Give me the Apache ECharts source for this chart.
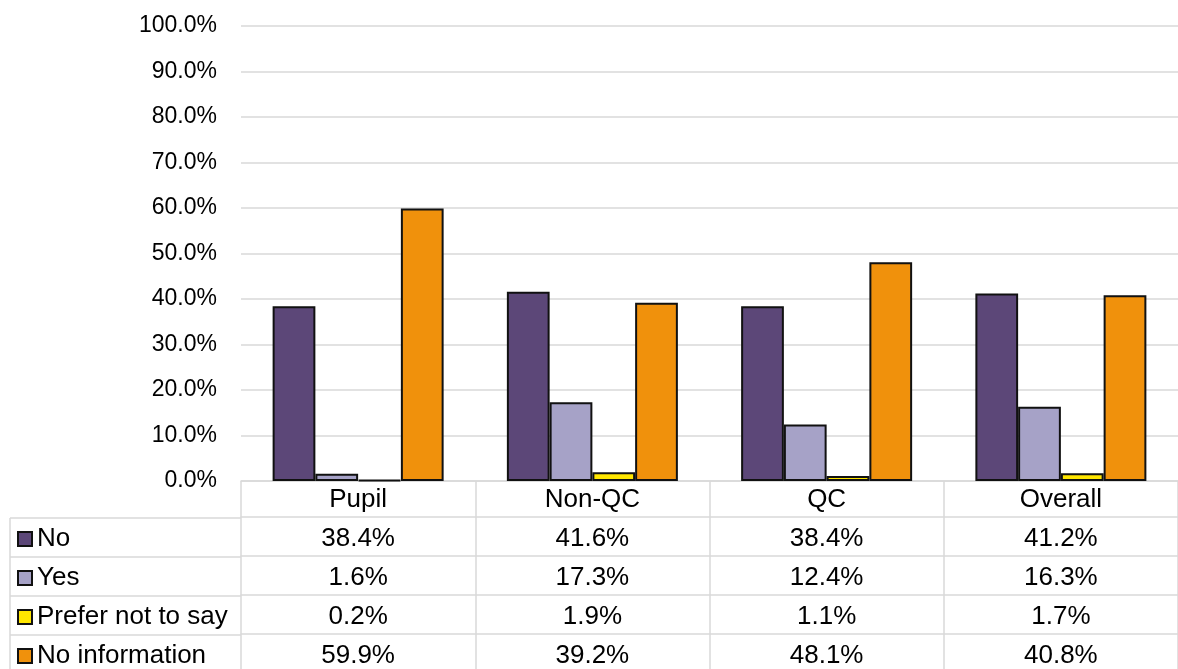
<!DOCTYPE html>
<html>
<head>
<meta charset="utf-8">
<script src="https://cdn.jsdelivr.net/npm/echarts@6/dist/echarts.min.js"></script>
<style>
html,body{margin:0;padding:0;background:#fff;}
#main{width:1178px;height:669px;}
</style>
</head>
<body>
<div id="main"></div>
<script>
// data
var categories = ['Pupil', 'Non-QC', 'QC', 'Overall'];
var seriesNames = ['No', 'Yes', 'Prefer not to say', 'No information'];
var noData = [38.4, 41.6, 38.4, 41.2];
var yesData = [1.6, 17.3, 12.4, 16.3];
var preferData = [0.2, 1.9, 1.1, 1.7];
var noInfoData = [59.9, 39.2, 48.1, 40.8];
var yTicks = [0, 10, 20, 30, 40, 50, 60, 70, 80, 90, 100];

var allData = [noData, yesData, preferData, noInfoData];
var colors = ['#5c4778', '#a6a2c7', '#ffe600', '#f0910c'];
var lineColor = '#d9d9d9';
var font = 'Liberation Sans, Arial, sans-serif';

var gridLeft = 241, gridTop = 26, gridBottom = 187;
var headerH = 36, rowH = 39;
var tableFont = 26;

var myChart = echarts.init(document.getElementById('main'));

function pct(v) { return v.toFixed(1) + '%'; }

// header axis + one axis per table row
var xAxes = [{
    type: 'category',
    data: categories,
    position: 'bottom',
    axisLine: {lineStyle: {color: lineColor, width: 1.5}},
    axisTick: {show: true, length: headerH, lineStyle: {color: lineColor, width: 1.5}},
    axisLabel: {margin: 6, fontSize: tableFont, color: '#000', fontFamily: font, interval: 0},
    splitLine: {show: false}
}];
allData.forEach(function (d, i) {
    xAxes.push({
        type: 'category',
        data: d.map(pct),
        position: 'bottom',
        offset: headerH + i * rowH,
        axisLine: {lineStyle: {color: lineColor, width: 1.5}},
        axisTick: {show: true, length: rowH, lineStyle: {color: lineColor, width: 1.5}},
        axisLabel: {margin: 9, fontSize: tableFont, color: '#000', fontFamily: font, interval: 0},
        splitLine: {show: false}
    });
});

var series = allData.map(function (d, i) {
    return {
        name: seriesNames[i],
        type: 'bar',
        xAxisIndex: 0,
        data: d,
        barGap: '0%',
        barCategoryGap: '27%',
        itemStyle: {color: colors[i], borderColor: '#111', borderWidth: 2}
    };
});

// left part of the data table
var chartH = 669;
var tableTop = chartH - gridBottom + headerH;
var graphics = [];
for (var r = 0; r < allData.length; r++) {
    graphics.push({
        type: 'line', shape: {x1: 10, y1: tableTop + r * rowH, x2: gridLeft, y2: tableTop + r * rowH},
        style: {stroke: lineColor, lineWidth: 1.5}
    });
}
graphics.push({
    type: 'line', shape: {x1: 10, y1: tableTop, x2: 10, y2: chartH},
    style: {stroke: lineColor, lineWidth: 1.5}
});

option = {
    animation: false,
    backgroundColor: '#fff',
    textStyle: {fontFamily: font},
    grid: {left: gridLeft, right: 0, top: gridTop, bottom: gridBottom},
    legend: {
        data: seriesNames,
        orient: 'vertical',
        icon: 'rect',
        left: 17,
        top: tableTop + 8,
        padding: 0,
        itemWidth: 14,
        itemHeight: 14,
        itemGap: rowH - tableFont,
        textStyle: {fontSize: tableFont, color: '#000', fontFamily: font, lineHeight: tableFont},
        selectedMode: false
    },
    xAxis: xAxes,
    yAxis: {
        type: 'value',
        min: yTicks[0],
        max: yTicks[yTicks.length - 1],
        interval: yTicks[1] - yTicks[0],
        axisLine: {show: false},
        axisTick: {show: false},
        axisLabel: {margin: 24, fontSize: 23, color: '#000', fontFamily: font, formatter: function (v) { return pct(v); }},
        splitLine: {lineStyle: {color: lineColor, width: 1.5}}
    },
    graphic: graphics,
    series: series
};
myChart.setOption(option);
</script>
</body>
</html>
